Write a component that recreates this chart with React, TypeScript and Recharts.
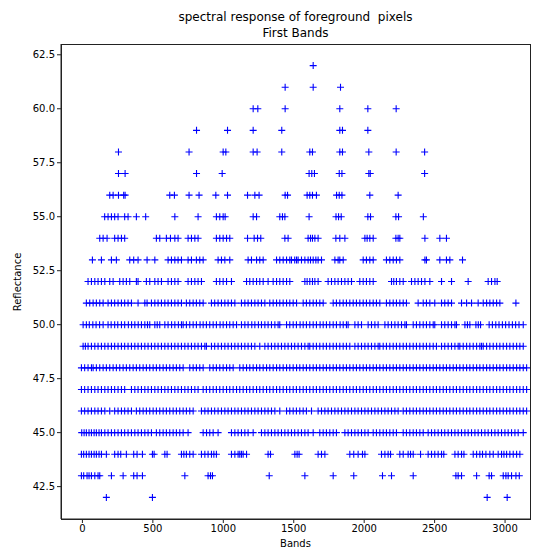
import { ScatterChart, Scatter, XAxis, YAxis } from 'recharts'

// band positions, one list per reflectance level
const level62 = [1638]
const level61 = [1439, 1638, 1832]
const level60 = [1212, 1245, 1439, 1827, 2026, 2227]
const level59 = [810, 1030, 1212, 1415, 1827, 1846, 2026]
const level58 = [256, 757, 999, 1018, 1212, 1240, 1415, 1614, 1633, 1827, 1846, 2033, 2227, 2429]
const level57 = [256, 303, 810, 992, 1609, 1628, 1647, 1823, 1842, 2033, 2043, 2429]
const level56 = [
  194, 218, 256, 293, 303, 620, 653, 757, 828, 947, 1030, 1172, 1224, 1254, 1439, 1456, 1595, 1614,
  1633, 1661, 1804, 1823, 1842, 2040, 2241,
]
const level55 = [
  158, 182, 206, 229, 253, 300, 324, 383, 449, 656, 821, 951, 975, 999, 1013, 1212, 1236, 1401, 1420,
  1437, 1609, 1800, 1818, 1837, 2026, 2045, 2225, 2244, 2420,
]
const level54 = [
  123, 147, 175, 229, 253, 277, 300, 525, 549, 596, 625, 656, 679, 750, 774, 798, 821, 951, 975, 999,
  1023, 1046, 1172, 1219, 1243, 1266, 1437, 1460, 1602, 1619, 1633, 1650, 1673, 1799, 1827, 1863,
  2005, 2021, 2040, 2064, 2225, 2241, 2253, 2431, 2537, 2584,
]
const level53 = [
  71, 135, 206, 241, 336, 364, 395, 459, 514, 608, 632, 656, 679, 703, 750, 774, 809, 833, 857, 963,
  987, 1011, 1046, 1176, 1200, 1236, 1259, 1283, 1378, 1401, 1425, 1449, 1472, 1484, 1507, 1520, 1531,
  1555, 1579, 1602, 1619, 1638, 1657, 1673, 1697, 1792, 1815, 1827, 1851, 1993, 2016, 2040, 2064,
  2158, 2182, 2206, 2229, 2253, 2431, 2442, 2537, 2584, 2608, 2698,
]
const level52 = [
  40, 64, 88, 111, 135, 159, 194, 218, 265, 289, 312, 336, 383, 395, 454, 478, 514, 537, 561, 608,
  632, 656, 679, 750, 774, 798, 821, 845, 951, 975, 999, 1023, 1058, 1165, 1188, 1212, 1236, 1259,
  1283, 1318, 1354, 1378, 1401, 1425, 1449, 1472, 1579, 1595, 1614, 1633, 1650, 1673, 1744, 1768,
  1792, 1815, 1839, 1863, 1886, 1910, 1969, 1993, 2016, 2040, 2064, 2194, 2210, 2229, 2253, 2277,
  2336, 2360, 2383, 2407, 2431, 2466, 2549, 2620, 2738, 2880, 2904, 2928, 2944,
]
const level51 = [
  28, 52, 76, 99, 123, 147, 182, 206, 229, 253, 277, 300, 324, 348, 395, 443, 459, 490, 514, 537,
  561, 585, 608, 632, 656, 679, 703, 738, 762, 786, 809, 833, 857, 916, 939, 963, 987, 1011, 1034,
  1058, 1082, 1129, 1153, 1176, 1200, 1224, 1247, 1271, 1295, 1330, 1354, 1378, 1401, 1425, 1449,
  1472, 1496, 1520, 1567, 1590, 1614, 1638, 1661, 1685, 1709, 1780, 1803, 1827, 1851, 1874, 1898,
  1922, 1945, 1969, 1993, 2016, 2040, 2064, 2087, 2111, 2158, 2182, 2206, 2229, 2253, 2277, 2300,
  2383, 2419, 2442, 2466, 2501, 2549, 2572, 2596, 2620, 2691, 2727, 2762, 2809, 2845, 2869, 2892,
  2916, 2940, 2963, 3077,
]
const level50 = [
  5, 28, 49, 74, 97, 122, 147, 182, 204, 229, 251, 277, 300, 326, 349, 372, 396, 419, 443, 462, 478,
  514, 531, 549, 585, 608, 633, 656, 681, 703, 715, 738, 762, 786, 809, 835, 857, 880, 904, 928, 951,
  977, 999, 1023, 1046, 1070, 1094, 1129, 1153, 1176, 1202, 1224, 1249, 1271, 1295, 1318, 1342, 1366,
  1389, 1401, 1449, 1472, 1496, 1519, 1545, 1567, 1590, 1614, 1638, 1661, 1687, 1709, 1732, 1756,
  1780, 1803, 1829, 1851, 1874, 1886, 1934, 1957, 1981, 2028, 2052, 2076, 2099, 2147, 2170, 2194,
  2218, 2241, 2265, 2289, 2300, 2348, 2371, 2395, 2419, 2442, 2466, 2490, 2501, 2549, 2572, 2596,
  2620, 2644, 2655, 2715, 2733, 2750, 2793, 2810, 2826, 2887, 2910, 2934, 2957, 2981, 3004, 3028,
  3052, 3075, 3099, 3129,
]
const level49 = [
  5, 21, 40, 64, 88, 111, 135, 159, 182, 206, 229, 253, 277, 300, 324, 348, 372, 395, 419, 443, 466,
  490, 514, 537, 561, 585, 608, 632, 656, 679, 703, 727, 750, 774, 798, 821, 845, 869, 880, 916, 939,
  963, 987, 1011, 1034, 1058, 1082, 1105, 1129, 1153, 1176, 1200, 1224, 1259, 1295, 1318, 1342, 1366,
  1389, 1413, 1437, 1460, 1484, 1507, 1531, 1555, 1579, 1602, 1614, 1638, 1661, 1685, 1709, 1732,
  1756, 1780, 1803, 1827, 1851, 1874, 1898, 1934, 1957, 1981, 2005, 2028, 2052, 2076, 2099, 2111,
  2135, 2158, 2182, 2206, 2229, 2253, 2277, 2300, 2324, 2348, 2371, 2395, 2419, 2442, 2466, 2490,
  2513, 2549, 2572, 2596, 2620, 2644, 2667, 2679, 2703, 2727, 2750, 2774, 2798, 2821, 2833, 2845,
  2869, 2892, 2916, 2940, 2963, 2987, 3011, 3034, 3058, 3082, 3105, 3129,
]
const level48 = [
  -7, 16, 40, 64, 76, 99, 123, 147, 170, 194, 218, 241, 265, 289, 312, 336, 360, 383, 407, 431, 454,
  478, 502, 525, 549, 573, 596, 620, 644, 667, 691, 715, 762, 786, 809, 833, 857, 904, 928, 951, 975,
  999, 1023, 1046, 1070, 1117, 1141, 1165, 1188, 1212, 1236, 1259, 1283, 1307, 1330, 1354, 1378,
  1401, 1425, 1449, 1472, 1496, 1520, 1543, 1567, 1590, 1614, 1638, 1661, 1685, 1709, 1732, 1756,
  1780, 1803, 1827, 1851, 1874, 1898, 1922, 1945, 1969, 1993, 2016, 2040, 2064, 2087, 2111, 2135,
  2158, 2182, 2206, 2229, 2253, 2277, 2300, 2324, 2348, 2371, 2395, 2419, 2442, 2466, 2490, 2513,
  2537, 2561, 2584, 2608, 2632, 2655, 2679, 2703, 2727, 2750, 2774, 2798, 2821, 2845, 2869, 2892,
  2916, 2940, 2963, 2987, 3011, 3034, 3058, 3082, 3105, 3129, 3153,
]
const level47 = [
  -7, 16, 40, 64, 88, 111, 135, 159, 182, 206, 229, 253, 277, 300, 348, 372, 395, 419, 443, 466, 490,
  514, 537, 561, 585, 608, 632, 656, 679, 703, 727, 750, 774, 798, 821, 857, 880, 904, 928, 951, 975,
  999, 1023, 1046, 1070, 1094, 1117, 1141, 1165, 1188, 1212, 1236, 1259, 1283, 1307, 1330, 1354,
  1378, 1401, 1425, 1449, 1472, 1496, 1519, 1543, 1567, 1590, 1614, 1638, 1661, 1685, 1709, 1732,
  1756, 1780, 1803, 1827, 1851, 1874, 1898, 1922, 1945, 1969, 1993, 2016, 2040, 2064, 2087, 2111,
  2135, 2158, 2182, 2206, 2229, 2253, 2277, 2300, 2324, 2348, 2371, 2395, 2419, 2442, 2466, 2490,
  2513, 2537, 2561, 2584, 2608, 2632, 2655, 2679, 2703, 2727, 2750, 2774, 2798, 2821, 2845, 2869,
  2892, 2916, 2940, 2963, 2987, 3011, 3034, 3058, 3082, 3105, 3129, 3153,
]
const level46 = [
  -7, 16, 40, 64, 88, 111, 135, 159, 194, 229, 253, 277, 300, 324, 348, 383, 407, 431, 454, 478, 502,
  525, 549, 573, 596, 620, 644, 667, 691, 715, 738, 762, 786, 845, 869, 892, 916, 939, 963, 987, 1011,
  1034, 1058, 1082, 1105, 1129, 1153, 1176, 1200, 1224, 1247, 1271, 1295, 1318, 1342, 1366, 1401,
  1449, 1472, 1496, 1519, 1543, 1567, 1590, 1626, 1673, 1697, 1721, 1744, 1768, 1792, 1815, 1839,
  1863, 1886, 1910, 1934, 1957, 1981, 2005, 2028, 2052, 2076, 2099, 2123, 2147, 2170, 2194, 2218,
  2241, 2277, 2300, 2324, 2348, 2371, 2395, 2419, 2442, 2466, 2490, 2513, 2537, 2561, 2584, 2608,
  2632, 2655, 2679, 2703, 2727, 2750, 2774, 2798, 2821, 2845, 2869, 2892, 2916, 2940, 2963, 2987,
  3011, 3034, 3058, 3082, 3105, 3129, 3153,
]
const level45 = [
  -5, 12, 28, 47, 64, 83, 99, 118, 135, 159, 182, 206, 229, 253, 277, 300, 324, 348, 372, 395, 419,
  443, 466, 490, 525, 549, 573, 596, 620, 644, 667, 691, 715, 750, 857, 881, 904, 928, 963, 1058,
  1082, 1105, 1129, 1153, 1176, 1212, 1271, 1295, 1318, 1342, 1366, 1389, 1413, 1437, 1460, 1484,
  1507, 1531, 1555, 1579, 1602, 1638, 1685, 1709, 1732, 1756, 1780, 1803, 1863, 1886, 1910, 1934,
  1957, 1981, 2005, 2028, 2064, 2087, 2111, 2135, 2158, 2182, 2206, 2229, 2277, 2300, 2324, 2348,
  2371, 2395, 2419, 2454, 2478, 2501, 2525, 2549, 2572, 2596, 2620, 2644, 2667, 2691, 2715, 2738,
  2762, 2786, 2809, 2833, 2857, 2880, 2904, 2928, 2951, 2975, 2999, 3022, 3046, 3070, 3093, 3129,
]
const level44 = [
  -7, 9, 28, 47, 64, 83, 99, 118, 135, 170, 229, 253, 272, 312, 364, 388, 426, 497, 509, 585, 601,
  703, 720, 738, 762, 786, 845, 869, 892, 916, 933, 951, 1058, 1082, 1105, 1117, 1129, 1141, 1165,
  1318, 1335, 1508, 1524, 1538, 1673, 1697, 1721, 1898, 1926, 1957, 1988, 2005, 2123, 2147, 2170,
  2187, 2253, 2277, 2312, 2329, 2348, 2400, 2454, 2478, 2501, 2525, 2549, 2565, 2644, 2667, 2691,
  2708, 2774, 2798, 2821, 2840, 2864, 2892, 2916, 2951, 2975, 2992, 3011, 3034, 3058, 3082, 3105,
]
const level43 = [
  -7, 9, 33, 47, 64, 88, 111, 123, 206, 289, 364, 388, 426, 727, 892, 909, 923, 1326, 1579, 1780,
  1926, 2130, 2194, 2348, 2651, 2667, 2691, 2798, 2887, 2904, 2987, 3006, 3022, 3046, 3077, 3101,
]
const level42 = [170, 497, 2873, 3015]

const levels: [number, number[]][] = [
  [62, level62], [61, level61], [60, level60], [59, level59], [58, level58], [57, level57],
  [56, level56], [55, level55], [54, level54], [53, level53], [52, level52], [51, level51],
  [50, level50], [49, level49], [48, level48], [47, level47], [46, level46], [45, level45],
  [44, level44], [43, level43], [42, level42],
]

const xTicks = [0, 500, 1000, 1500, 2000, 2500, 3000]
const yTicks = [42.5, 45, 47.5, 50, 52.5, 55, 57.5, 60, 62.5]

const points = levels.flatMap(([y, xs]) => xs.map((x) => ({ band: x, value: y })))

const font = '"DejaVu Sans", sans-serif'
const xDomain = [-152, 3177]
const yDomain = [41, 63]

// chart box
const W = 542
const H = 552
const M = { top: 44, right: 12, bottom: 0, left: 0 }
const yAxisW = 61
const xAxisH = 33

function Plus(props: any) {
  const { cx, cy } = props
  if (cx == null || cy == null) return null
  return (
    <path
      d={`M${cx - 3.5},${cy}h7M${cx},${cy - 3.5}v7`}
      stroke="#0000ff"
      strokeWidth={1.1}
      fill="none"
    />
  )
}

export default function App() {
  const tickStyle = { fontSize: 10, fill: '#000', fontFamily: font }
  const plotL = M.left + yAxisW
  const plotT = M.top
  const plotW = W - M.right - plotL
  const plotH = H - M.bottom - xAxisH - plotT
  return (
    <div style={{ position: 'absolute', left: 0, top: 0, width: W, height: H, background: '#fff', fontFamily: font }}>
      <div style={{ position: 'absolute', left: plotL, width: plotW, top: 9, textAlign: 'center', fontSize: 12, lineHeight: '16px', color: '#000' }}>
        spectral response of foreground&nbsp; pixels
        <br />
        First Bands
      </div>
      <ScatterChart width={W} height={H} margin={M}>
        <XAxis
          type="number"
          dataKey="band"
          domain={xDomain}
          ticks={xTicks}
          allowDataOverflow
          height={xAxisH}
          tickSize={4}
          tickMargin={2}
          tick={tickStyle}
          stroke="#222"
        />
        <YAxis
          type="number"
          dataKey="value"
          domain={yDomain}
          ticks={yTicks}
          allowDataOverflow
          width={yAxisW}
          tickSize={4}
          tickMargin={2}
          tick={tickStyle}
          tickFormatter={(v: number) => v.toFixed(1)}
          stroke="#222"
        />
        <Scatter data={points} shape={<Plus />} isAnimationActive={false} />
      </ScatterChart>
      {/* axes frame, as in matplotlib's four spines */}
      <div
        style={{
          position: 'absolute',
          left: plotL,
          top: plotT,
          width: plotW + 1,
          height: plotH + 1,
          border: '1px solid #222',
          boxSizing: 'border-box',
          zIndex: 10,
          pointerEvents: 'none',
        }}
      />
      <div style={{ position: 'absolute', left: plotL, width: plotW, top: 538, textAlign: 'center', fontSize: 10, color: '#000' }}>
        Bands
      </div>
      <div
        style={{
          position: 'absolute',
          left: 17,
          top: plotT + plotH / 2,
          fontSize: 10,
          color: '#000',
          transform: 'translate(-50%, -50%) rotate(-90deg)',
          whiteSpace: 'nowrap',
        }}
      >
        Reflectance
      </div>
    </div>
  )
}
